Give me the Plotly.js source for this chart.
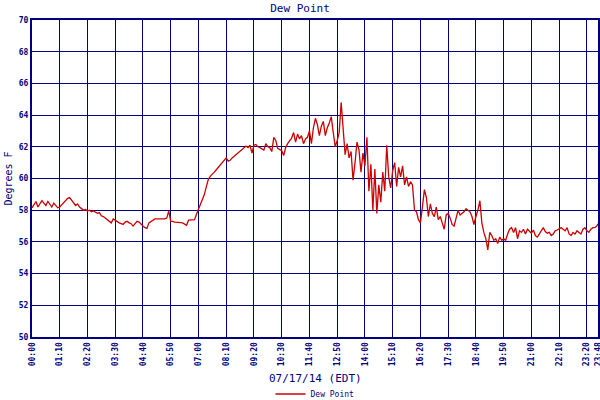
<!DOCTYPE html>
<html>
<head>
<meta charset="utf-8">
<script src="https://cdn.plot.ly/plotly-3.0.1.min.js"></script>
<style>
  html, body { margin: 0; padding: 0; background: #fff; }
  #plot { width: 600px; height: 400px; }
</style>
</head>
<body>
<div id="plot"></div>
<script>
// dew point readings, one every 5 minutes from 00:00, last one at 23:48
var sampleStep = 5;
var lastMinute = 1428;
var dewPoint = [
  58.15, 58.35, 58.55, 58.2, 58.4, 58.6, 58.45, 58.3, 58.55, 58.4,
  58.2, 58.45, 58.3, 58.15, 58.2, 58.35, 58.5, 58.6, 58.75, 58.8,
  58.65, 58.45, 58.3, 58.4, 58.2, 58.1, 58.0, 58.05, 57.95, 58.0,
  57.9, 57.95, 57.85, 57.8, 57.85, 57.65, 57.6, 57.5, 57.45, 57.3,
  57.2, 57.45, 57.35, 57.3, 57.2, 57.15, 57.1, 57.25, 57.3, 57.2,
  57.15, 57.0, 57.15, 57.3, 57.25, 57.1, 57.0, 56.9, 56.85, 57.2,
  57.3, 57.35, 57.45, 57.45, 57.45, 57.45, 57.45, 57.45, 57.5, 57.95,
  57.3, 57.3, 57.25, 57.25, 57.25,
  57.22, 57.2, 57.15, 57.05, 57.37,
  57.37, 57.37, 57.4, 57.75, 58.05, 58.4, 58.7, 59.0, 59.5, 59.95,
  60.15, 60.25, 60.4, 60.55, 60.7, 60.85, 61.05, 61.2, 61.3, 61.1,
  61.15, 61.3, 61.4, 61.55, 61.65, 61.7, 61.8, 61.9, 62.05, 61.95,
  62.1, 61.6, 62.1, 62.15, 62.0, 61.95, 61.85, 61.8, 62.2, 62.0,
  61.95, 61.7, 62.6, 62.4, 61.9, 61.85, 61.75, 61.45, 61.95, 62.2,
  62.35, 62.55, 62.9, 62.3, 62.8, 62.5,
  62.7, 62.2, 62.5, 62.6,
  63.0, 62.2, 63.2, 63.8, 63.4, 62.7, 63.3, 63.6, 62.7, 63.2,
  63.5, 63.9, 62.9, 62.0, 62.4, 62.9, 64.8, 63.3, 61.5, 62.2,
  61.3, 61.7, 59.9, 61.0, 62.3, 61.8, 60.4, 61.6, 60.8, 62.6,
  59.2, 60.9, 58.0, 60.6, 57.8, 59.6, 58.5, 60.4, 59.2, 62.1,
  60.1, 59.4, 60.5, 61.0, 59.5, 60.7, 60.1, 60.8, 59.6, 60.1,
  59.5, 59.8, 59.6, 58.0, 57.9, 57.4,
  57.2, 58.2, 59.3, 58.8, 57.6, 58.4, 57.8, 57.6, 58.2, 57.4,
  57.6, 57.2, 56.8, 57.7, 57.8, 57.5, 57.1, 57.0, 57.5, 58.0,
  57.7, 57.8, 57.9, 58.1, 58.0, 57.9, 57.6, 57.1, 57.6, 58.0,
  58.6, 57.2, 56.6, 56.2, 55.5, 56.6, 56.4, 56.1, 56.2, 55.9,
  56.3, 56.1, 56.2, 56.1, 56.5,
  56.8, 56.9, 56.6, 56.9, 56.2, 56.7, 56.6, 56.8, 56.5, 56.8,
  56.65, 56.55, 56.75, 56.4, 56.3, 56.5, 56.7, 56.9, 56.65, 56.55,
  56.6, 56.4, 56.5, 56.7, 56.75, 56.8, 56.9, 56.8, 56.7, 56.9,
  56.5, 56.4, 56.6, 56.5, 56.7, 56.6, 56.5, 56.8, 56.9, 56.7,
  56.6, 56.8, 56.9, 56.9, 57.0,
  57.15
];

var tickMinutes = [0, 70, 140, 210, 280, 350, 420, 490, 560, 630, 700,
  770, 840, 910, 980, 1050, 1120, 1190, 1260, 1330, 1400, 1428];
var tickLabels = ['00:00', '01:10', '02:20', '03:30', '04:40', '05:50', '07:00',
  '08:10', '09:20', '10:30', '11:40', '12:50', '14:00', '15:10', '16:20',
  '17:30', '18:40', '19:50', '21:00', '22:10', '23:20', '23:48'];

var minutes = dewPoint.map(function(v, i) {
  return i === dewPoint.length - 1 ? lastMinute : i * sampleStep;
});

var navy = '#000080';
var mono = 'DejaVu Sans Mono, Liberation Mono, monospace';

var trace = {
  x: minutes,
  y: dewPoint,
  mode: 'lines',
  name: 'Dew Point',
  line: {color: '#cc0000', width: 1.3},
  type: 'scatter'
};

var layout = {
  width: 600,
  height: 400,
  margin: {l: 32, r: 2, t: 20, b: 63},
  paper_bgcolor: '#fff',
  plot_bgcolor: '#fff',
  title: {
    text: 'Dew Point',
    font: {family: mono, size: 11, color: navy},
    x: 0.5, xanchor: 'center',
    y: 0.98, yanchor: 'middle', yref: 'container'
  },
  xaxis: {
    range: [0, lastMinute],
    tickvals: tickMinutes,
    ticktext: tickLabels,
    tickangle: -90,
    ticklabeloverflow: 'allow',
    tickfont: {family: mono, size: 8, color: navy, weight: 'bold'},
    showgrid: true, gridcolor: navy, gridwidth: 1,
    showline: true, linecolor: navy, linewidth: 2, mirror: true,
    zeroline: false, ticks: ''
  },
  yaxis: {
    range: [50, 70],
    dtick: 2,
    tickfont: {family: mono, size: 8, color: navy, weight: 'bold'},
    showgrid: true, gridcolor: navy, gridwidth: 1,
    showline: true, linecolor: navy, linewidth: 2, mirror: true,
    zeroline: false, ticks: '',
    title: {
      text: 'Degrees F',
      font: {family: mono, size: 10, color: navy},
      standoff: 4
    }
  },
  annotations: [{
    text: '07/17/14 (EDT)',
    xref: 'paper', yref: 'paper',
    x: 0.5, y: -0.13,
    xanchor: 'center', yanchor: 'middle',
    showarrow: false,
    font: {family: mono, size: 11, color: navy}
  }],
  showlegend: true,
  legend: {
    orientation: 'h',
    x: 0.5, xanchor: 'center',
    y: 0.015, yref: 'container', yanchor: 'middle',
    font: {family: mono, size: 8, color: navy},
    bgcolor: 'rgba(0,0,0,0)'
  }
};

Plotly.newPlot('plot', [trace], layout, {displayModeBar: false, staticPlot: true});
</script>
</body>
</html>
